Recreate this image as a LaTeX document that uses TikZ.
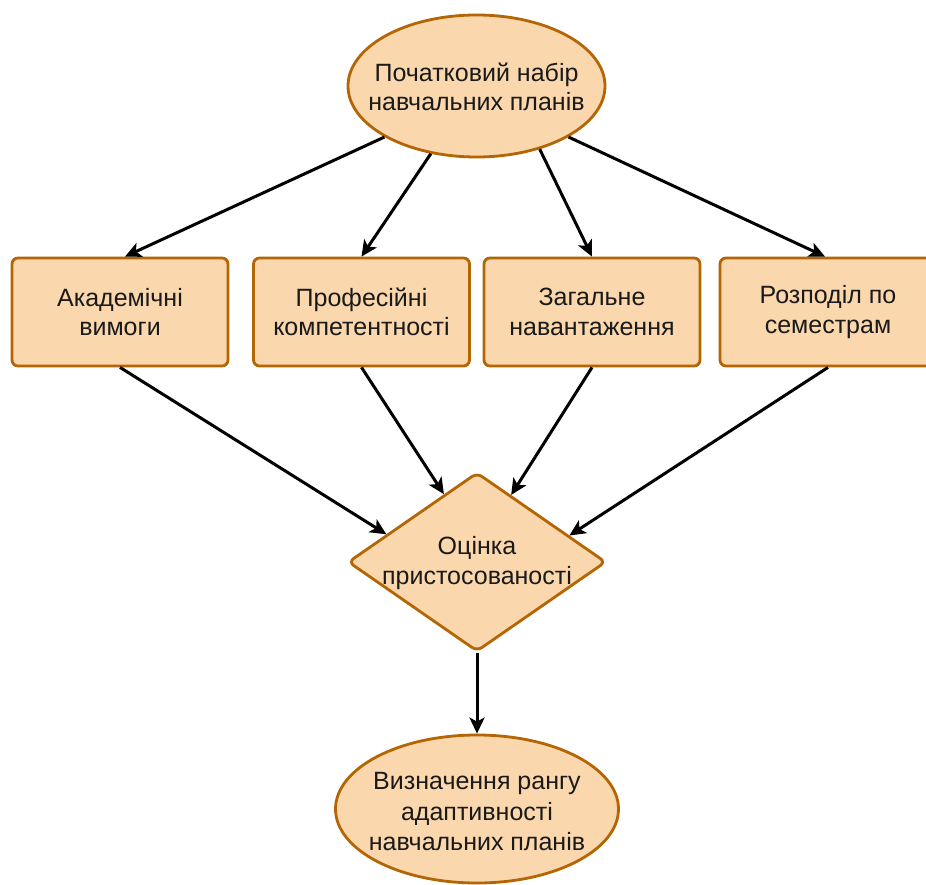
\documentclass[tikz,border=0pt]{standalone}
\usepackage{fontspec}
\setmainfont{Liberation Sans}
\usetikzlibrary{shapes.geometric,arrows.meta}
\definecolor{boxfill}{HTML}{FAD7AC}
\definecolor{boxline}{HTML}{B46504}
\definecolor{txtcol}{HTML}{1A1A1A}
\begin{document}
\begin{tikzpicture}[x=1pt,y=-1pt,
  lbl/.style={text=txtcol,align=center,font=\fontsize{25}{29.5}\selectfont},
  base/.style={draw=boxline,fill=boxfill,line width=2.8pt},
  oval/.style={base,ellipse,inner sep=0pt},
  stepbox/.style={base,rectangle,rounded corners=6pt,minimum width=216pt,minimum height=108pt,inner sep=0pt,lbl},
  decision/.style={base,diamond,rounded corners=6pt,minimum width=258pt,minimum height=179pt,inner sep=0pt},
  flow/.style={draw=black,line width=3pt,-{Stealth[length=16pt,width=15pt,inset=4pt]}}
]
\clip (0,0) rectangle (926,885);
\fill[white] (0,0) rectangle (926,885);

% start and result ellipses, their captions set on top
\node[oval,minimum width=257pt,minimum height=142pt] (start) at (476.5,86) {};
\node[lbl] (starttext) at ([yshift=-1pt]start.center) {Початковий набір\\навчальних планів};
\node[oval,minimum width=283pt,minimum height=148pt] (rank) at (477,809) {};
\node[lbl,font=\fontsize{25}{30.5}\selectfont] (ranktext) at ([yshift=-3pt]rank.center) {Визначення рангу\\адаптивності\\навчальних планів};

% criteria boxes
\node[stepbox] (acad) at (120,312) {Академічні\\вимоги};
\node[stepbox] (prof) at (361.5,312) {Професійні\\компетентності};
\node[stepbox] (load) at (592,312) {Загальне\\навантаження};
\node[stepbox] (sem) at (828,312) {Розподіл по\\семестрам};

% evaluation diamond
\node[decision] (eval) at (477,562) {};
\node[lbl] (evaltext) at ([yshift=-1pt]eval.center) {Оцінка\\пристосованості};

% connectors
\draw[flow] (start.209) -- ([xshift=5pt]acad.north);
\draw[flow] (start.236) -- (prof.north);
\draw[flow] (start.315) -- (load.north);
\draw[flow] (start.331) -- ([xshift=-3pt]sem.north);

\draw[flow] (acad.south) -- (eval.163);
\draw[flow] (prof.south) -- (eval.116);
\draw[flow] (load.south) -- (eval.63);
\draw[flow] (sem.south) -- (eval.16);

\draw[flow] (eval.south) -- (rank.north);
\end{tikzpicture}
\end{document}
